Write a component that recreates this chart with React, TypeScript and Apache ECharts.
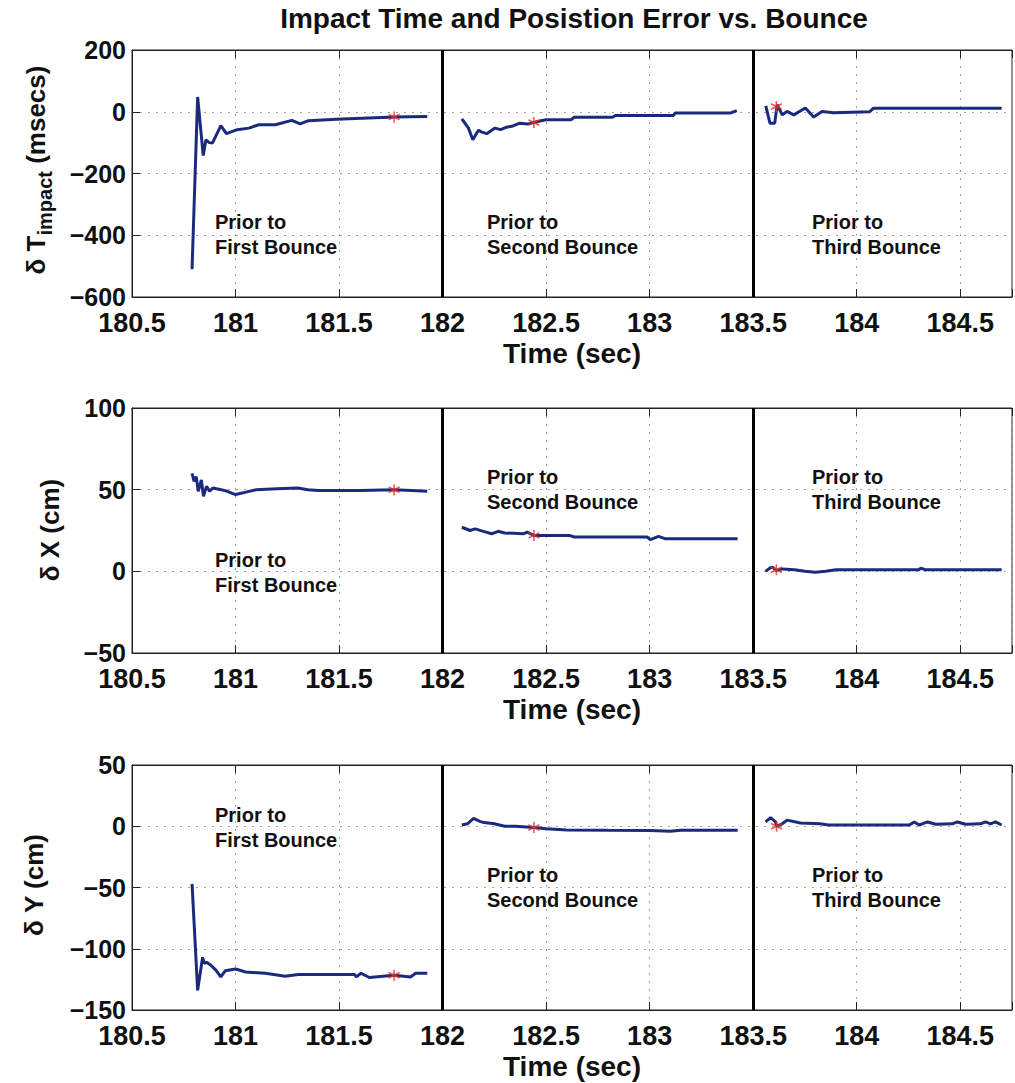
import React, { useEffect, useRef } from 'react';
import * as echarts from 'echarts';

// ---------- data ----------
const chartTitle = 'Impact Time and Posistion Error vs. Bounce';
const xLabel = 'Time (sec)';
const xMin = 180.5;
const xMax = 184.75;
const xStep = 0.5;
const bounceTimes = [182, 183.5];
const bounceLabels = ['Prior to\nFirst Bounce', 'Prior to\nSecond Bounce', 'Prior to\nThird Bounce'];

// delta T impact (msecs)
const tImpactFirst = [
  [180.79, -510], [180.817, 48], [180.844, -142], [180.857, -91], [180.873, -100], [180.889, -101],
  [180.929, -45], [180.956, -71], [181.008, -58], [181.065, -53], [181.112, -42], [181.192, -42],
  [181.272, -28], [181.312, -39], [181.352, -29], [181.487, -24], [181.766, -17], [181.926, -15],
];
const tImpactSecond = [
  [182.093, -23], [182.125, -53], [182.146, -91], [182.173, -60], [182.19, -66], [182.213, -71],
  [182.253, -53], [182.28, -58], [182.309, -50], [182.34, -46], [182.373, -37], [182.41, -40],
  [182.441, -35], [182.47, -30], [182.5, -26], [182.62, -26], [182.636, -18], [182.82, -18],
  [182.835, -12], [183.115, -12], [183.123, -4], [183.392, -4], [183.421, 4],
];
const tImpactThird = [
  [183.561, 19], [183.581, -37], [183.604, -37], [183.616, 23], [183.64, -10], [183.664, 1],
  [183.696, -10], [183.752, 12], [183.792, -17], [183.832, 1], [183.888, -3], [184.063, 0],
  [184.08, 11], [184.7, 11],
];
const tImpactStars = [[181.766, -17], [182.441, -35], [183.612, 17]];

// delta X (cm)
const dXFirst = [
  [180.79, 60], [180.8, 55], [180.81, 58], [180.82, 49], [180.835, 56], [180.845, 46], [180.86, 52],
  [180.875, 49], [180.89, 51], [180.93, 50], [180.96, 49], [181.0, 47], [181.05, 48.5], [181.1, 50],
  [181.2, 50.5], [181.3, 51], [181.35, 50], [181.4, 49.5], [181.6, 49.5], [181.766, 50],
  [181.85, 49.5], [181.926, 49],
];
const dXSecond = [
  [182.093, 27], [182.133, 25], [182.157, 26], [182.197, 24.5], [182.237, 23], [182.269, 24.5],
  [182.3, 23.5], [182.389, 23], [182.408, 24], [182.441, 22], [182.612, 22], [182.636, 21],
  [182.987, 21], [183.003, 19.4], [183.043, 21.4], [183.074, 20], [183.425, 20],
];
const dXThird = [
  [183.56, 0], [183.58, 2], [183.595, 2.5], [183.61, 0.5], [183.64, 1.5], [183.7, 1], [183.75, 0],
  [183.8, -0.5], [183.85, 0], [183.9, 1], [184.0, 1], [184.3, 1], [184.31, 2], [184.33, 1], [184.7, 1],
];
const dXStars = [[181.766, 50], [182.441, 22], [183.612, 1]];

// delta Y (cm)
const dYFirst = [
  [180.79, -47], [180.817, -134], [180.841, -107], [180.849, -112], [180.86, -111], [180.881, -113.5],
  [180.905, -117.5], [180.929, -123], [180.95, -118], [181.0, -116.5], [181.049, -119], [181.144, -120],
  [181.24, -122.5], [181.303, -121], [181.575, -121], [181.583, -123], [181.606, -120], [181.646, -123.5],
  [181.766, -121.6], [181.845, -123], [181.87, -120], [181.926, -120],
];
const dYSecond = [
  [182.093, 1], [182.12, 2], [182.15, 6.5], [182.18, 4], [182.2, 3], [182.25, 2], [182.3, 0],
  [182.35, 0], [182.441, -1], [182.5, -2], [182.6, -3], [182.8, -3.3], [183.0, -3.5], [183.1, -4],
  [183.15, -3.3], [183.425, -3.3],
];
const dYThird = [
  [183.56, 3.5], [183.584, 7], [183.608, 3.5], [183.613, 0], [183.64, 2], [183.664, 5], [183.728, 2.7],
  [183.823, 2], [183.863, 1], [184.254, 1], [184.278, 3.5], [184.302, 1], [184.342, 3.5], [184.382, 1.6],
  [184.462, 2], [184.486, 3.5], [184.526, 1.6], [184.598, 2], [184.622, 3.5], [184.646, 2], [184.67, 3.5],
  [184.7, 1],
];
const dYStars = [[181.766, -121.6], [182.441, -1], [183.613, 0]];

const yMins = [-600, -50, -150];
const yMaxs = [200, 100, 50];
const yIntervals = [200, 50, 50];

// ---------- styling / layout ----------
const FONT = '"Liberation Sans", Arial, Helvetica, sans-serif';
const LINE_COLOR = '#1b2a7d';
const STAR_COLOR = '#e0342a';
const AXIS_COLOR = '#222';
const GRID_COLOR = '#a0a0a0';

const gridBoxes = [
  { left: 132, top: 50, width: 888, height: 247 },
  { left: 132, top: 408, width: 888, height: 245 },
  { left: 132, top: 765, width: 888, height: 245 },
];
const annotationPos = [
  [[215, 209], [487, 209], [812, 209]],
  [[215, 547], [487, 464], [812, 464]],
  [[215, 802], [487, 862], [812, 862]],
];

const fmtX = (v: number) => {
  const r = Math.round(v / xStep) * xStep;
  if (Math.abs(r - v) > 1e-6 || v > 184.6) return '';
  return String(Math.round(v * 10) / 10);
};
const fmtY = (v: number) => (v < 0 ? '\u2212' + String(Math.abs(v)) : String(v));

export default function App() {
  const ref = useRef<HTMLDivElement>(null);

  useEffect(() => {
    if (!ref.current) return;
    const chart = echarts.init(ref.current, undefined, { renderer: 'svg' });

    const seriesSets = [
      [tImpactFirst, tImpactSecond, tImpactThird, tImpactStars],
      [dXFirst, dXSecond, dXThird, dXStars],
      [dYFirst, dYSecond, dYThird, dYStars],
    ];

    const xAxes: any[] = [];
    const yAxes: any[] = [];
    const series: any[] = [];

    gridBoxes.forEach((_, i) => {
      xAxes.push({
        type: 'value', gridIndex: i, min: xMin, max: xMax, interval: xStep,
        axisLine: { show: true, onZero: false, lineStyle: { color: AXIS_COLOR, width: 1 } },
        axisTick: { show: true, inside: true, length: 8, lineStyle: { color: AXIS_COLOR } },
        axisLabel: { fontSize: 27, fontWeight: 'bold', color: '#111', fontFamily: FONT, margin: 12, formatter: fmtX },
        splitLine: { show: true, lineStyle: { color: GRID_COLOR, type: [2, 6], width: 1 } },
        name: xLabel, nameLocation: 'middle', nameGap: 42,
        nameTextStyle: { fontSize: 28, fontWeight: 'bold', color: '#111', fontFamily: FONT },
      });
    });
    gridBoxes.forEach((_, i) => {
      xAxes.push({
        type: 'value', gridIndex: i, position: 'top', min: xMin, max: xMax, interval: xStep,
        axisLine: { show: true, onZero: false, lineStyle: { color: AXIS_COLOR, width: 1 } },
        axisTick: { show: true, inside: true, length: 8, lineStyle: { color: AXIS_COLOR } },
        axisLabel: { show: false },
        splitLine: { show: false },
      });
    });
    gridBoxes.forEach((_, i) => {
      yAxes.push({
        type: 'value', gridIndex: i, min: yMins[i], max: yMaxs[i], interval: yIntervals[i],
        axisLine: { show: true, onZero: false, lineStyle: { color: AXIS_COLOR, width: 1 } },
        axisTick: { show: true, inside: true, length: 8, lineStyle: { color: AXIS_COLOR } },
        axisLabel: {
          fontSize: 25, fontWeight: 'bold', color: '#111', fontFamily: FONT, margin: 6,
          lineHeight: 18, formatter: fmtY,
        },
        splitLine: { show: true, lineStyle: { color: GRID_COLOR, type: [2, 6], width: 1 } },
      });
      const sets = seriesSets[i];
      for (let k = 0; k < 3; k++) {
        const s: any = {
          type: 'line', xAxisIndex: i, yAxisIndex: i, data: sets[k],
          symbol: 'none', showSymbol: false, z: 3,
          lineStyle: { color: LINE_COLOR, width: 3 },
        };
        if (k === 0) {
          s.markLine = {
            silent: true, symbol: ['none', 'none'], label: { show: false },
            lineStyle: { color: '#000', width: 3, type: 'solid' },
            data: bounceTimes.map((t) => ({ xAxis: t })),
          };
        }
        series.push(s);
      }
      series.push({
        type: 'scatter', xAxisIndex: i, yAxisIndex: i, data: sets[3], z: 5,
        symbol: 'path://M0,-10L0,10M-8.66,-5L8.66,5M-8.66,5L8.66,-5',
        symbolSize: 11,
        itemStyle: { color: 'rgba(0,0,0,0)', borderColor: STAR_COLOR, borderWidth: 1.6 },
      });
    });

    const graphics: any[] = [
      {
        type: 'text', x: 574, y: 18,
        style: {
          text: chartTitle, font: `bold 28px ${FONT}`, fill: '#111',
          align: 'center', verticalAlign: 'middle', textAlign: 'center', textVerticalAlign: 'middle',
        },
      },
      {
        type: 'text', x: 36, y: 170, rotation: Math.PI / 2,
        style: {
          text: '{m|\u03B4 T}{s|impact}{m| (msecs)}',
          align: 'center', verticalAlign: 'middle', textAlign: 'center', textVerticalAlign: 'middle',
          fill: '#111',
          rich: {
            m: { fontSize: 26, fontWeight: 'bold', fontFamily: FONT, fill: '#111', lineHeight: 26 },
            s: { fontSize: 20, fontWeight: 'bold', fontFamily: FONT, fill: '#111', lineHeight: 20, padding: [18, 0, 0, 0] },
          },
        },
      },
      {
        type: 'text', x: 50, y: 530, rotation: Math.PI / 2,
        style: {
          text: '\u03B4 X (cm)', font: `bold 26px ${FONT}`, fill: '#111',
          align: 'center', verticalAlign: 'middle', textAlign: 'center', textVerticalAlign: 'middle',
        },
      },
      {
        type: 'text', x: 34, y: 885, rotation: Math.PI / 2,
        style: {
          text: '\u03B4 Y (cm)', font: `bold 26px ${FONT}`, fill: '#111',
          align: 'center', verticalAlign: 'middle', textAlign: 'center', textVerticalAlign: 'middle',
        },
      },
    ];
    annotationPos.forEach((row) => {
      row.forEach((p, j) => {
        graphics.push({
          type: 'text', x: p[0], y: p[1], z: 10,
          style: {
            text: bounceLabels[j], font: `bold 20px ${FONT}`, fill: '#111', lineHeight: 25,
            align: 'left', verticalAlign: 'top', textAlign: 'left', textVerticalAlign: 'top',
          },
        });
      });
    });

    chart.setOption({
      animation: false,
      backgroundColor: '#fff',
      grid: gridBoxes.map((g) => ({ ...g, show: true, borderColor: AXIS_COLOR, borderWidth: 1, containLabel: false })),
      xAxis: xAxes,
      yAxis: yAxes,
      series,
      graphic: graphics,
    });

    return () => chart.dispose();
  }, []);

  return (
    <div
      ref={ref}
      style={{ position: 'absolute', left: 0, top: 0, width: 1015, height: 1083, background: '#fff' }}
    />
  );
}
